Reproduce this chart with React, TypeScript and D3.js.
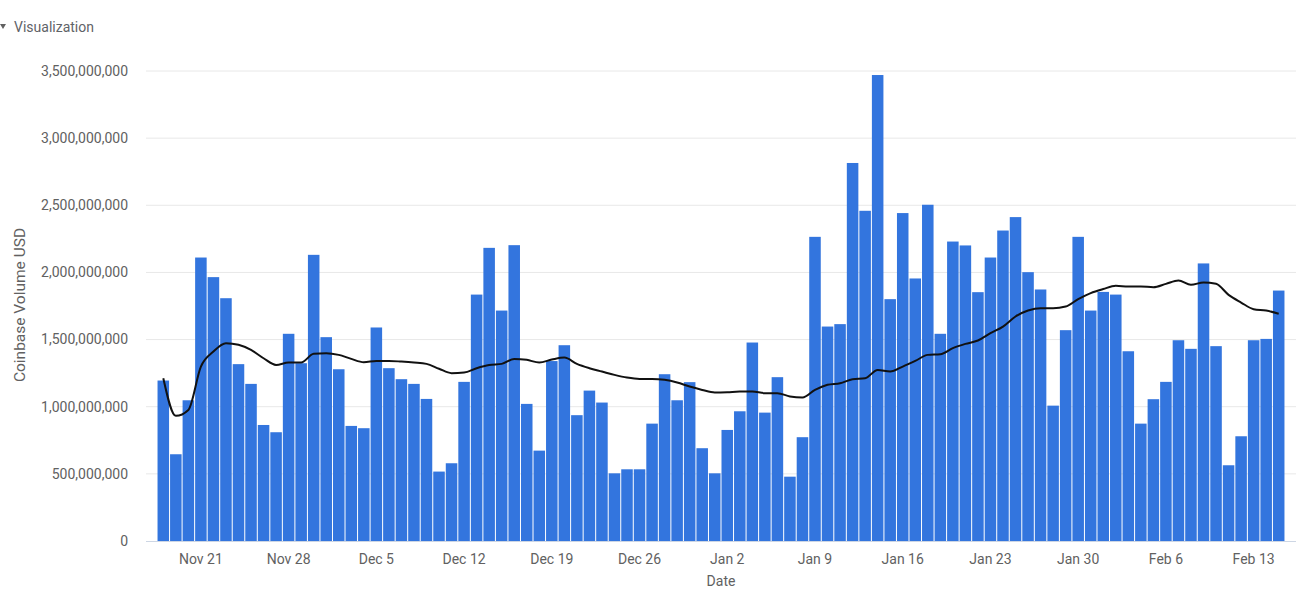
import React from "react";
import * as d3 from "d3";

const startDate = new Date(2021, 10, 18);
const endDate = new Date(2022, 1, 16);
const dates = d3.timeDay.range(startDate, endDate);

// Coinbase Volume USD (millions)
const volumeM = [
  1195, 646, 1048, 2111, 1965, 1808, 1317, 1170, 864, 810,
  1543, 1324, 2131, 1518, 1279, 857, 840, 1590, 1287, 1205,
  1170, 1058, 517, 579, 1185, 1835, 2183, 1716, 2203, 1021,
  673, 1340, 1458, 937, 1120, 1031, 504, 534, 534, 874,
  1242, 1048, 1183, 691, 504, 827, 966, 1478, 956, 1220,
  479, 773, 2265, 1597, 1615, 2815, 2459, 3470, 1801, 2442,
  1955, 2504, 1543, 2230, 2201, 1853, 2111, 2312, 2412, 2002,
  1873, 1008, 1570, 2265, 1716, 1855, 1835, 1413, 874, 1056,
  1185, 1495, 1431, 2067, 1451, 564, 780, 1495, 1505, 1865,
];

// Trend line (millions)
const trendM = [
  1212, 932, 976, 1299, 1411, 1473, 1461, 1423, 1361, 1311,
  1329, 1329, 1394, 1399, 1386, 1356, 1332, 1341, 1341, 1336,
  1329, 1319, 1283, 1250, 1254, 1287, 1311, 1319, 1356, 1349,
  1329, 1351, 1366, 1319, 1287, 1262, 1237, 1217, 1207, 1207,
  1200, 1180, 1150, 1125, 1106, 1108, 1113, 1113, 1101, 1101,
  1076, 1068, 1125, 1163, 1175, 1205, 1212, 1274, 1262, 1299,
  1341, 1386, 1391, 1436, 1468, 1493, 1548, 1597, 1672, 1716,
  1734, 1734, 1746, 1801, 1846, 1876, 1900, 1895, 1895, 1890,
  1915, 1940, 1908, 1925, 1915, 1833, 1776, 1726, 1716, 1692,
];

const yTicks = [0, 500e6, 1000e6, 1500e6, 2000e6, 2500e6, 3000e6, 3500e6];
const xTickLabels = ["Nov 21", "Nov 28", "Dec 5", "Dec 12", "Dec 19", "Dec 26", "Jan 2", "Jan 9", "Jan 16", "Jan 23", "Jan 30", "Feb 6", "Feb 13"];

const W = 1311;
const H = 608;
const left = 146;
const right = 1296;
const top = 71;
const bottom = 541;
const font = "Roboto, 'Noto Sans', sans-serif";
const textColor = "#616161";

export default function App() {
  const keys = dates.map((d) => d3.timeFormat("%b %-d")(d));
  const x = d3.scaleBand<string>().domain(keys).range([left, right]).paddingInner(0.08).paddingOuter(0.92);
  const y = d3.scaleLinear().domain([0, 3500e6]).range([bottom, top]);
  const fmt = d3.format(",");
  const line = d3
    .line<number>()
    .x((_, i) => (x(keys[i]) as number) + x.bandwidth() / 2)
    .y((v) => y(v * 1e6))
    .curve(d3.curveMonotoneX);

  return (
    <div style={{ position: "absolute", left: 0, top: 0 }}>
      <svg width={W} height={H} style={{ display: "block", background: "#fff" }}>
        <path d="M0,24 L6,24 L3,29 Z" fill="#616161" />
        <text x={14} y={32} fontFamily={font} fontSize={14} fill="#5f6368">Visualization</text>
        {yTicks.map((t) => (
          <g key={t}>
            {t > 0 && <line x1={left} x2={right} y1={y(t)} y2={y(t)} stroke="#e8e8e8" strokeWidth={1} />}
            <text x={128} y={y(t)} dy="0.35em" textAnchor="end" fontFamily={font} fontSize={14} fill={textColor}>
              {fmt(t)}
            </text>
          </g>
        ))}
        <text
          transform={`translate(25,305) rotate(-90)`}
          textAnchor="middle"
          fontFamily={font}
          fontSize={15.5}
          fill={textColor}
        >
          Coinbase Volume USD
        </text>
        {volumeM.map((v, i) => (
          <rect
            key={i}
            x={x(keys[i])}
            y={y(v * 1e6)}
            width={x.bandwidth()}
            height={bottom - y(v * 1e6)}
            fill="#3375de"
          />
        ))}
        <line x1={left} x2={right} y1={bottom + 0.5} y2={bottom + 0.5} stroke="#cdd6e4" strokeWidth={1} />
        <path d={line(trendM) || ""} fill="none" stroke="#111" strokeWidth={2} />
        {xTickLabels.map((lbl) => {
          const cx = (x(lbl) as number) + x.bandwidth() / 2;
          return (
            <text key={lbl} x={cx} y={564} textAnchor="middle" fontFamily={font} fontSize={14} fill={textColor}>
              {lbl}
            </text>
          );
        })}
        <text x={721} y={586} textAnchor="middle" fontFamily={font} fontSize={14} fill={textColor}>Date</text>
      </svg>
    </div>
  );
}
